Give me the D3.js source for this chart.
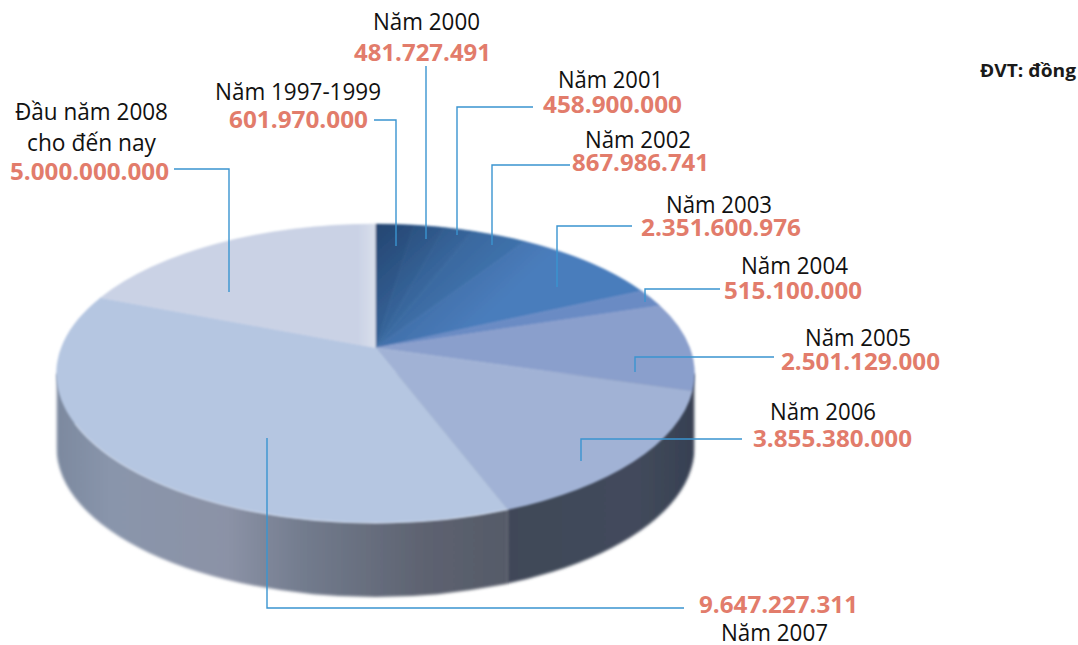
<!DOCTYPE html>
<html lang="vi"><head><meta charset="utf-8">
<script src="https://cdn.jsdelivr.net/npm/d3@7/dist/d3.min.js"></script>
<style>html,body{margin:0;padding:0;background:#fff}svg{display:block}text{font-family:"Open Sans","Noto Sans",sans-serif}</style>
</head><body><svg id="c" width="1078" height="645"></svg>
<script>
// Data
const categories = ["Năm 1997-1999","Năm 2000","Năm 2001","Năm 2002","Năm 2003","Năm 2004","Năm 2005","Năm 2006","Năm 2007","Đầu năm 2008 cho đến nay"];
const values = [601970000,481727491,458900000,867986741,2351600976,515100000,2501129000,3855380000,9647227311,5000000000];
const valueLabels = ["601.970.000","481.727.491","458.900.000","867.986.741","2.351.600.976","515.100.000","2.501.129.000","3.855.380.000","9.647.227.311","5.000.000.000"];
const unitLabel = "ĐVT: đồng";
// Style
const sliceColors = ["#3a6aa3","#3d70aa","#4074af","#4378b4","#4a7dbc","#6a8bc4","#8a9fcc","#a1b2d5","#b5c6e1","#cad2e5"];
// Layout: label anchors [name lines with x0,x1,baseline], value [x0,x1,baseline], leader polyline
const layout = [
 {names:[["Năm 1997-1999",215,381,100]],val:[229,368,128],leader:[[374,120],[396,120],[396,246]]},
 {names:[["Năm 2000",373,480,30]],val:[354,491,60.5],leader:[[426,66],[426,239]]},
 {names:[["Năm 2001",558,663,88]],val:[543,682,113],leader:[[533,107],[457,107],[457,235]]},
 {names:[["Năm 2002",585,691,148]],val:[572,709,171],leader:[[570,165],[492,165],[492,245]]},
 {names:[["Năm 2003",666,772,213]],val:[641,801,236],leader:[[632,226],[557,226],[557,287]]},
 {names:[["Năm 2004",741,848,274]],val:[724,862,299],leader:[[720,289],[645,289],[645,302]]},
 {names:[["Năm 2005",805,911,346]],val:[781,940,370],leader:[[774,357],[635,357],[635,372]]},
 {names:[["Năm 2006",770,876,420]],val:[753,912,447],leader:[[742,439],[581,439],[581,461]]},
 {names:[["Năm 2007",721,828,641]],val:[699,858,613],leader:[[684,608],[267,608],[267,438]]},
 {names:[["Đầu năm 2008",15,168,120],["cho đến nay",27,156,151]],val:[10,169,180],leader:[[174,169],[229,169],[229,292]]}
];
const DEPTH = 74, K = -0.173; // projected offset of the pie centre inside the ellipse

const svg = d3.select("#c");
const sx = d3.scaleLinear().domain([-1,1]).range([56.5,694.5]);
const sy = d3.scaleLinear().domain([-1,1]).range([224,523]);
const rx = (sx(1)-sx(-1))/2, ry = (sy(1)-sy(-1))/2;

// perspective map of the unit circle onto itself
function proj(a){
  const u=Math.sin(a), v=-Math.cos(a), d=1+K*v;
  return [u*Math.sqrt(1-K*K)/d,(v+K)/d];
}
const apex=[sx(0),sy(K)];
const arcs=d3.pie().sort(null).startAngle(0).endAngle(2*Math.PI)(values);

const defs=svg.append("defs");
const soft=defs.append("filter").attr("id","soft").attr("x","-5%").attr("y","-5%").attr("width","110%").attr("height","110%");
soft.append("feGaussianBlur").attr("stdDeviation",0.8);
const soft2=defs.append("filter").attr("id","soft2").attr("x","-5%").attr("y","-5%").attr("width","110%").attr("height","110%");
soft2.append("feGaussianBlur").attr("stdDeviation",1.6);

const splitX=sx(proj(arcs[7].endAngle)[0]);
const g1=defs.append("linearGradient").attr("id","sideG").attr("gradientUnits","userSpaceOnUse")
  .attr("x1",sx(-1)).attr("x2",splitX).attr("y1",0).attr("y2",0);
[[0,"#7c899f"],[.12,"#8995ab"],[.38,"#8b92a6"],[.55,"#727b8d"],[.82,"#5d6270"],[1,"#555a68"]]
 .forEach(s=>g1.append("stop").attr("offset",s[0]).attr("stop-color",s[1]));
const g2=defs.append("linearGradient").attr("id","sideD").attr("gradientUnits","userSpaceOnUse")
  .attr("x1",splitX).attr("x2",sx(1)).attr("y1",0).attr("y2",0);
[[0,"#3f4758"],[.7,"#424a5b"],[1,"#364052"]].forEach(s=>g2.append("stop").attr("offset",s[0]).attr("stop-color",s[1]));
const g3=defs.append("linearGradient").attr("id","shade").attr("gradientUnits","userSpaceOnUse")
  .attr("x1",sx(0)).attr("y1",sy(-1)).attr("x2",sx(.31)).attr("y2",sy(-.3));
[[0,"#172f52",.62],[.5,"#172f52",.22],[1,"#172f52",0]].forEach(s=>g3.append("stop").attr("offset",s[0]).attr("stop-color",s[1]).attr("stop-opacity",s[2]));
const g4=defs.append("linearGradient").attr("id","strip").attr("gradientUnits","userSpaceOnUse")
  .attr("x1",sx(0)-18).attr("x2",sx(0)).attr("y1",0).attr("y2",0);
[[0,"#dfe4ee",0],[1,"#dfe4ee",.7]].forEach(s=>g4.append("stop").attr("offset",s[0]).attr("stop-color",s[1]).attr("stop-opacity",s[2]));

// side wall
const sidePath=`M${sx(-1)},${sy(0)} L${sx(-1)},${sy(0)+DEPTH} A${rx},${ry} 0 0 0 ${sx(1)},${sy(0)+DEPTH} L${sx(1)},${sy(0)} Z`;
defs.append("clipPath").attr("id","sideClip").append("path").attr("d",sidePath);
const side=svg.append("g").attr("filter","url(#soft2)");
const sc=side.append("g").attr("clip-path","url(#sideClip)");
sc.append("rect").attr("x",sx(-1)).attr("y",sy(0)).attr("width",splitX-sx(-1)).attr("height",ry+DEPTH+2).attr("fill","url(#sideG)");
sc.append("rect").attr("x",splitX).attr("y",sy(0)).attr("width",sx(1)-splitX).attr("height",ry+DEPTH+2).attr("fill","url(#sideD)");

// top surface
function slicePath(d){
  const p0=proj(d.startAngle), p1=proj(d.endAngle);
  let span=Math.atan2(p1[0],-p1[1])-Math.atan2(p0[0],-p0[1]);
  if(span<0) span+=2*Math.PI;
  return `M${apex[0]},${apex[1]} L${sx(p0[0])},${sy(p0[1])} A${rx},${ry} 0 ${span>Math.PI?1:0} 1 ${sx(p1[0])},${sy(p1[1])} Z`;
}
function rimPath(d){
  const p0=proj(d.startAngle), p1=proj(d.endAngle);
  return `M${sx(p0[0])},${sy(p0[1])} A${rx},${ry} 0 0 1 ${sx(p1[0])},${sy(p1[1])}`;
}
const topG=svg.append("g").attr("filter","url(#soft)");
topG.selectAll("path.s").data(arcs).join("path").attr("class","s")
  .attr("d",slicePath).attr("fill",(d,i)=>sliceColors[i]).attr("stroke",(d,i)=>sliceColors[i]).attr("stroke-width",.5);
// shading on the dark wedges and the light strip beside the first radius
const firstWedges={startAngle:0,endAngle:arcs[4].endAngle};
topG.append("path").attr("d",slicePath(firstWedges)).attr("fill","url(#shade)");
topG.append("path").attr("d",slicePath({startAngle:arcs[9].startAngle,endAngle:2*Math.PI})).attr("fill","url(#strip)");
// pale highlight along the front rim of the largest slice
topG.append("path").attr("d",rimPath({startAngle:arcs[8].startAngle,endAngle:arcs[8].startAngle+(arcs[8].endAngle-arcs[8].startAngle)*.62}))
  .attr("fill","none").attr("stroke","#d3dcec").attr("stroke-width",1.3).attr("opacity",.75);

// leaders
const line=d3.line();
svg.append("g").selectAll("path").data(layout).join("path")
  .attr("d",d=>line(d.leader)).attr("fill","none").attr("stroke","#3a94d0").attr("stroke-width",1.4);

// text
const t=svg.append("g");
function lab(sel,x0,x1,y,s,size,weight,fill){
  sel.append("text").attr("x",x0).attr("y",y).attr("textLength",x1-x0).attr("lengthAdjust","spacingAndGlyphs")
    .attr("font-size",size).attr("font-weight",weight).attr("fill",fill).text(s);
}
layout.forEach((l,i)=>{
  l.names.forEach(n=>lab(t,n[1],n[2],n[3],n[0],23,400,"#111"));
  lab(t,l.val[0],l.val[1],l.val[2],valueLabels[i],23,700,"#e27c6b");
});
lab(t,980,1076,77,unitLabel,18,700,"#1a1a1a");
</script></body></html>
